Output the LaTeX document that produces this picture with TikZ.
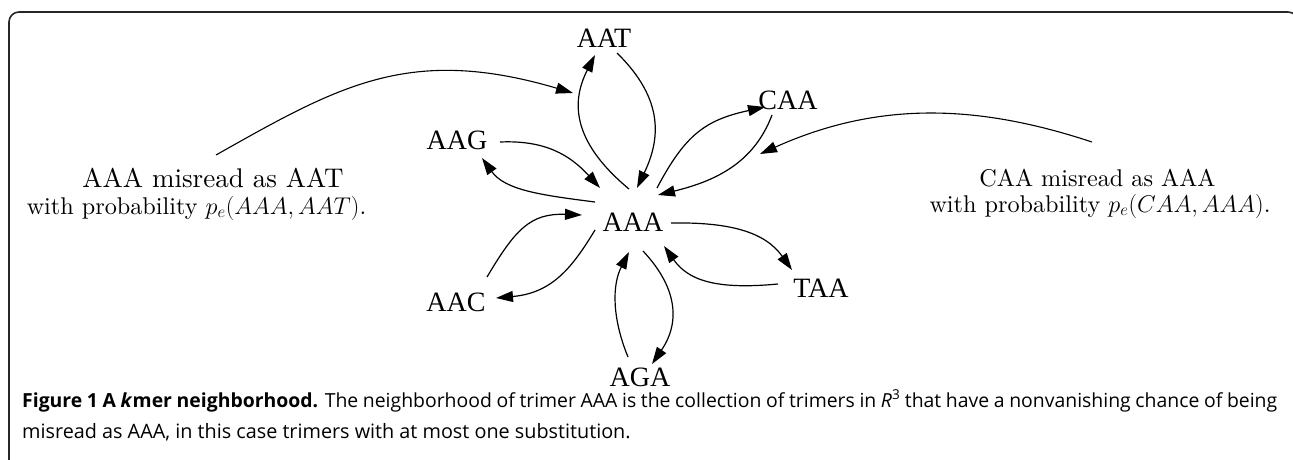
\RequirePackage{fix-cm}
\documentclass[tikz,border=0pt]{standalone}
\usepackage{fontspec}
\usetikzlibrary{arrows.meta}
\newfontfamily\graphfont{Liberation Serif}
\newfontfamily\capfont{Open Sans}
\newfontfamily\noterm{lmroman10-regular.otf}
\tikzset{
  term/.style={font=\graphfont\fontsize{28}{30}\selectfont, inner sep=0pt},
  link/.style={line width=1.2pt, -{Triangle[length=17pt,width=11pt]}},
  pointer/.style={line width=1.1pt, -{Triangle[length=17pt,width=11pt]}},
  note/.style={font=\noterm\fontsize{24.2}{28}\selectfont, anchor=base, inner sep=0pt},
  notebig/.style={note, font=\noterm\fontsize{27}{30}\selectfont},
  captext/.style={font=\capfont\fontsize{19.8}{22}\selectfont, anchor=base west, inner sep=0pt},
  frame/.style={line width=1.6pt, black!85, rounded corners=10pt},
}
\begin{document}
\begin{tikzpicture}[x=1pt, y=-1pt]
\useasboundingbox (0,0) rectangle (1293,460);
\clip (0,0) rectangle (1293,460);

% outer frame (open at the bottom and right)
\draw[frame] (9,480) -- (9,12) -- (1298,12) -- (1298,480);

% the trimers
\node[term] (AAA) at (633,222) {AAA};
\node[term] (AAT) at (604,38)  {AAT};
\node[term] (CAA) at (788,100) {CAA};
\node[term] (AAG) at (457,140) {AAG};
\node[term] (TAA) at (821,288) {TAA};
\node[term] (AAC) at (456,302) {AAC};
\node[term] (AGA) at (640,377) {AGA};

% misreading edges between AAA and its neighbours
\draw[link] ([shift={(-4,-33)}]AAA.center) .. controls (570,140) and (572,100) .. ([shift={(-9,17)}]AAT.center);
\draw[link] ([shift={(13,15)}]AAT.center) .. controls (665,100) and (660,140) .. ([shift={(4,-34)}]AAA.center);
\draw[link] ([shift={(43,2)}]AAG.center) .. controls (545,140) and (570,155) .. ([shift={(-33,-34)}]AAA.center);
\draw[link] ([shift={(-38,-20)}]AAA.center) .. controls (540,195) and (505,190) .. ([shift={(25,18)}]AAG.center);
\draw[link] ([shift={(24,-34)}]AAA.center) .. controls (685,135) and (705,120) .. ([shift={(-23,7)}]CAA.center);
\draw[link] ([shift={(-16,15)}]CAA.center) .. controls (755,160) and (720,180) .. ([shift={(25,-27)}]AAA.center);
\draw[link] ([shift={(31,-25)}]AAC.center) .. controls (515,230) and (530,213) .. ([shift={(-51,-7)}]AAA.center);
\draw[link] ([shift={(-38,8)}]AAA.center) .. controls (572,268) and (552,293) .. ([shift={(40,-4)}]AAC.center);
\draw[link] ([shift={(38,1)}]AAA.center) .. controls (730,222) and (765,232) .. ([shift={(-29,-18)}]TAA.center);
\draw[link] ([shift={(-43,-4)}]TAA.center) .. controls (715,290) and (688,280) .. ([shift={(31,24)}]AAA.center);
\draw[link] ([shift={(-12,-20)}]AGA.center) .. controls (612,318) and (612,285) .. ([shift={(-4,30)}]AAA.center);
\draw[link] ([shift={(10,29)}]AAA.center) .. controls (675,285) and (682,320) .. ([shift={(12,-13)}]AGA.center);

% annotations
\node[notebig] (noteL) at (213,187) {AAA misread as AAT};
\node[note] (noteLb) at (196.5,214) {with probability $p_e(AAA,AAT)$.};
\node[note] (noteR) at (1097.5,186) {CAA misread as AAA};
\node[note] (noteRb) at (1100,212) {with probability $p_e(CAA,AAA)$.};

\draw[pointer] ([shift={(3,-32)}]noteL.base) .. controls (340,85) and (410,45) .. ([shift={(-31,55)}]AAT.center);
\draw[pointer] ([shift={(-5.5,-44)}]noteR.base) .. controls (980,105) and (880,100) .. ([shift={(-28,54)}]CAA.center);

% caption
\node[captext, font=\capfont\fontsize{19.4}{22}\selectfont] (cap1) at (22,407) {\makebox[1255pt][s]{\textbf{Figure 1 A \textit{k}mer neighborhood.} The neighborhood of trimer AAA is the collection of trimers in \textit{R}\textsuperscript{3} that have a nonvanishing chance of being}};
\node[captext] (cap2) at (22,438) {misread as AAA, in this case trimers with at most one substitution.};
\end{tikzpicture}
\end{document}
